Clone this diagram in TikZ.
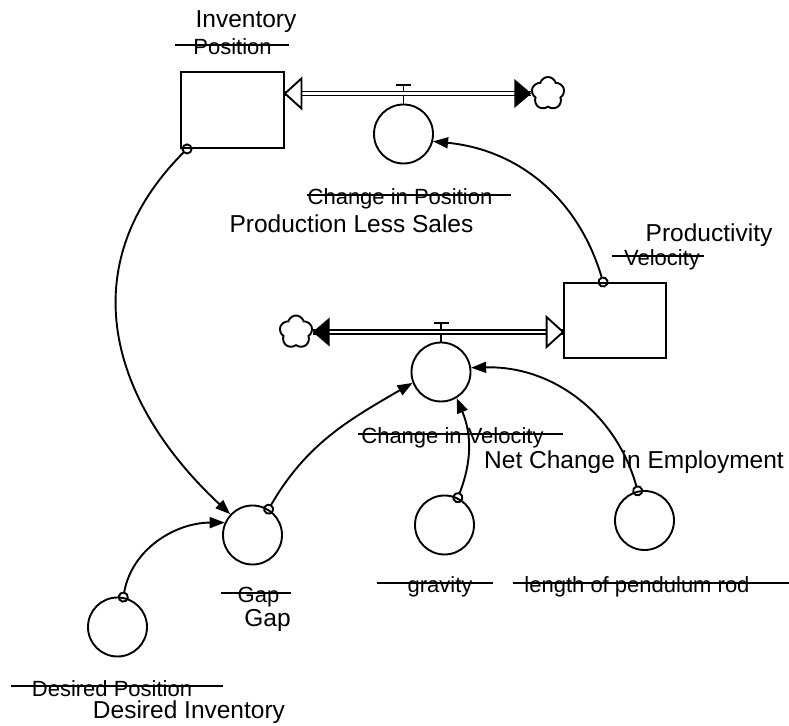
\documentclass[tikz,border=0pt]{standalone}
\usepackage{fontspec}
\setmainfont{Liberation Sans}
\usetikzlibrary{arrows.meta,shapes.symbols}
\tikzset{stock/.style={draw,rectangle,inner sep=0pt}}
\tikzset{aux/.style={draw,circle,minimum size=59pt,inner sep=0pt}}
\tikzset{cloudy/.style={draw,cloud,cloud puffs=5,aspect=1,minimum width=33pt,minimum height=33pt,inner sep=0pt}}
\tikzset{pipe/.style={double,double distance=2.4pt,line width=1.6pt}}
\tikzset{link/.style={{Circle[open,length=11pt,width=11pt]}-{Triangle[length=15pt,width=11pt]},shorten <=-5.5pt}}
\tikzset{newname/.style={inner sep=0pt,font=\fontsize{24.5}{26}\selectfont,text height=17.5pt,text depth=0pt}}
\tikzset{oldname/.style={inner sep=0pt,font=\fontsize{22}{24}\selectfont,text height=16pt,text depth=0pt}}
\tikzset{strike/.style={line width=1.6pt}}
\tikzset{openhead/.pic={\draw[fill=white] (0,0) -- (-16.5,15) -- (-16.5,-15) -- cycle;}}
\tikzset{fullhead/.pic={\fill (0,0) -- (-17,14.5) -- (-17,-14.5) -- cycle;}}

\begin{document}
\begin{tikzpicture}[x=1pt,y=1pt,line width=1.9pt]
    \useasboundingbox (0,0) rectangle (789,725);
    % draw the stocks
    \node[stock,minimum width=103pt,minimum height=76pt] (inv) at (232.5,615) {};
    \node[stock,minimum width=102pt,minimum height=75pt] (prod) at (615,404.5) {};
    % draw the clouds
    \node[cloudy] (cloudA) at (548,631.5) {};
    \node[cloudy] (cloudB) at (296,393) {};
    % draw the rates and auxiliaries
    \node[aux] (chpos) at (403.5,591) {};
    \node[aux] (chvel) at (441,353) {};
    \node[aux] (gap) at (252.5,190) {};
    \node[aux] (des) at (117.5,98) {};
    \node[aux] (grav) at (444.5,200) {};
    \node[aux] (len) at (644.5,204.5) {};
    % draw the valves
    \draw (chpos.north) -- ++(0,18.5) ++(-7.5,0) -- ++(15,0);
    \draw (chvel.north) -- ++(0,18.5) ++(-7.5,0) -- ++(15,0);
    % draw the pipes
    \draw[pipe] (cloudA.west) -- (inv.east |- cloudA.west);
    \draw[pipe] (cloudB.east) -- (prod.west |- cloudB.east);
    \pic[rotate=180] at (inv.east |- cloudA.west) {openhead};
    \pic at (cloudA.west) {fullhead};
    \pic[rotate=180] at (cloudB.east) {fullhead};
    \pic at (prod.west |- cloudB.east) {openhead};
    % draw the links
    \draw[link] ([xshift=7pt]inv.south west) to[out=225,in=137,looseness=1.15] (gap.137);
    \draw[link] (des.79) to[out=80,in=180] (gap.156);
    \draw[link] (gap.58) to[out=60,in=210] (chvel.201);
    \draw[link] (grav.64) to[bend right=22] (chvel.301);
    \draw[link] (len.103) to[bend right=38] (chvel.8);
    \draw[link] ([xshift=40pt]prod.north west) to[bend right=34] (chpos.346);
    % names, old ones struck out
    \node[newname] (invname) at (246,705.75) {Inventory};
    \node[oldname] (posold) at (232.5,678) {Position};
    \draw[strike] ([xshift=-17pt,yshift=2pt]posold.west) -- ([xshift=16pt,yshift=2pt]posold.east);
    \node[oldname] (chposold) at (400,528) {Change in Position};
    \draw[strike] ([yshift=2pt]chposold.west) -- ([xshift=18pt,yshift=2pt]chposold.east);
    \node[newname] (chposname) at (351.5,500.75) {Production Less Sales};
    \node[newname] (prodname) at (709,491.75) {Productivity};
    \node[oldname] (velold) at (662,467) {Velocity};
    \draw[strike] ([xshift=-11pt,yshift=2pt]velold.west) -- ([xshift=3pt,yshift=2pt]velold.east);
    \node[oldname] (chvelold) at (452.5,289) {Change in Velocity};
    \draw[strike] ([xshift=-2pt,yshift=2pt]chvelold.west) -- ([xshift=18pt,yshift=2pt]chvelold.east);
    \node[newname] (chvelname) at (634,264.75) {Net Change in Employment};
    \node[oldname] (gapold) at (258.5,130) {Gap};
    \draw[strike] ([xshift=-16pt,yshift=2pt]gapold.west) -- ([xshift=11pt,yshift=2pt]gapold.east);
    \node[newname] (gapname) at (267.5,106.75) {Gap};
    \node[oldname] (gravold) at (440,140) {gravity};
    \draw[strike] ([xshift=-30pt,yshift=2pt]gravold.west) -- ([xshift=20pt,yshift=2pt]gravold.east);
    \node[oldname] (lenold) at (637,140) {length of pendulum rod};
    \draw[strike] ([xshift=-11pt,yshift=2pt]lenold.west) -- ([xshift=39pt,yshift=2pt]lenold.east);
    \node[oldname] (desold) at (112,37) {Desired Position};
    \draw[strike] ([xshift=-20pt,yshift=2pt]desold.west) -- ([xshift=30pt,yshift=2pt]desold.east);
    \node[newname] (desname) at (189,15.75) {Desired Inventory};
\end{tikzpicture}
\end{document}
